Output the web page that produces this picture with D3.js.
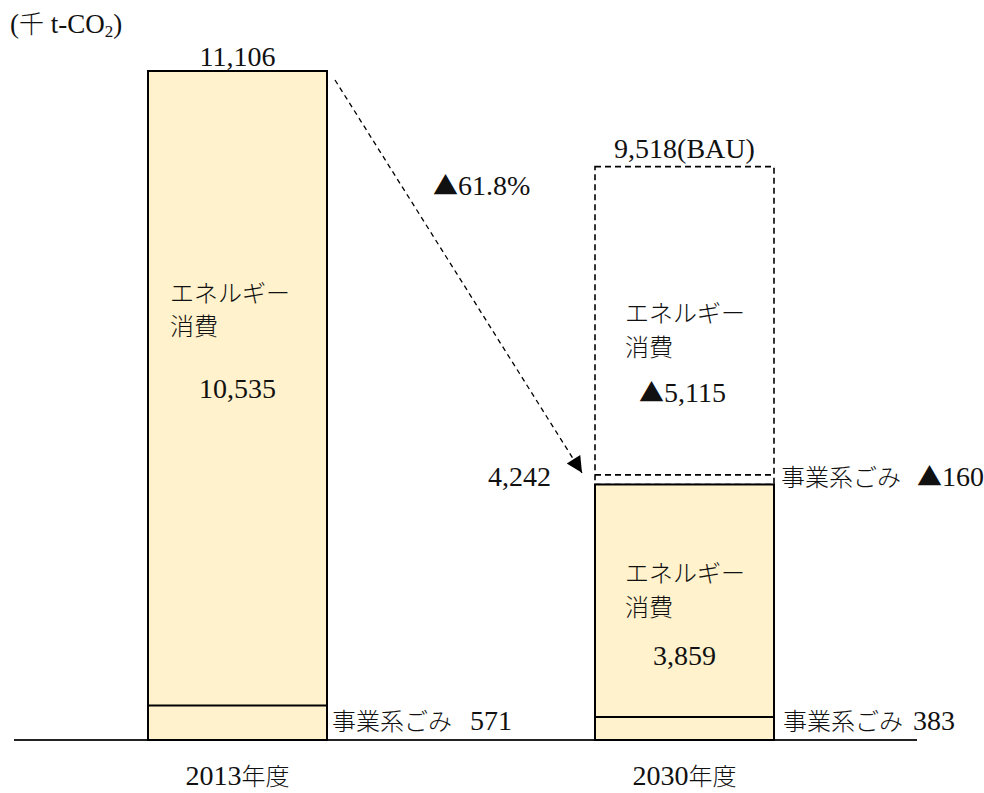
<!DOCTYPE html>
<html>
<head>
<meta charset="utf-8">
<script src="https://cdn.jsdelivr.net/npm/d3@7"></script>
<style>
  html, body { margin: 0; padding: 0; background: #ffffff; }
  svg { display: block; }
  text { font-family: 'Liberation Serif', 'Noto Sans CJK JP', serif; fill: #111; }
  .cjk { font-family: 'Noto Sans CJK JP', sans-serif; font-weight: 300; }
</style>
</head>
<body>
<svg id="chart" width="984" height="793"></svg>
<script>
// ---- data ----
const categories = ["2013年度", "2030年度"];
const energy = [10535, 3859];          // エネルギー消費
const waste = [571, 383];              // 事業系ごみ
const totals = [11106, 4242];
const bauTotal = 9518;                 // 2030 BAU
const bauEnergyCut = 5115;             // ▲ エネルギー消費
const bauWasteCut = 160;               // ▲ 事業系ごみ
const reductionPct = "61.8%";
const unitLabel = ["(", "千", " t-CO", "2", ")"];

// ---- layout ----
const svg = d3.select("#chart");
const baseY = 740, topY = 71;
const barW = 179;

const y = d3.scaleLinear().domain([0, totals[0]]).range([baseY, topY]);
const x = d3.scalePoint().domain(categories).range([237.5, 684.5]);

const fmt = d3.format(",");
const CJK = 24, NUM = 28, TRI = 25;

// baseline
svg.append("line")
  .attr("x1", 14).attr("x2", 917)
  .attr("y1", baseY).attr("y2", baseY)
  .attr("stroke", "#222").attr("stroke-width", 2);

// BAU dashed box (2030)
const c2 = categories[1];
svg.append("rect")
  .attr("x", x(c2) - barW / 2)
  .attr("y", y(bauTotal))
  .attr("width", barW)
  .attr("height", y(totals[1]) - y(bauTotal))
  .attr("fill", "none")
  .attr("stroke", "#000").attr("stroke-width", 1.6)
  .attr("stroke-dasharray", "6,4");
svg.append("line")
  .attr("x1", x(c2) - barW / 2).attr("x2", x(c2) + barW / 2)
  .attr("y1", y(totals[1] + bauWasteCut)).attr("y2", y(totals[1] + bauWasteCut))
  .attr("stroke", "#000").attr("stroke-width", 1.6)
  .attr("stroke-dasharray", "6,4");

// stacked bars
const stackData = categories.map((c, i) => ({ cat: c, waste: waste[i], energy: energy[i], total: totals[i] }));
const bars = svg.selectAll("g.bar").data(stackData).join("g").attr("class", "bar");
bars.append("rect")
  .attr("x", d => x(d.cat) - barW / 2)
  .attr("y", d => y(d.waste + d.energy))
  .attr("width", barW)
  .attr("height", d => y(0) - y(d.waste + d.energy))
  .attr("fill", "#fff2cc")
  .attr("stroke", "#000").attr("stroke-width", 2);
bars.append("line")
  .attr("x1", d => x(d.cat) - barW / 2)
  .attr("x2", d => x(d.cat) + barW / 2)
  .attr("y1", d => y(d.waste)).attr("y2", d => y(d.waste))
  .attr("stroke", "#000").attr("stroke-width", 2);

// arrow
svg.append("defs").append("marker")
  .attr("id", "ah").attr("viewBox", "0 0 10 10")
  .attr("refX", 10).attr("refY", 5)
  .attr("markerWidth", 18).attr("markerHeight", 16)
  .attr("markerUnits", "userSpaceOnUse")
  .attr("orient", "auto")
  .append("path").attr("d", "M0,0 L10,5 L0,10 z").attr("fill", "#000");
const ax1 = x(categories[0]) + barW / 2 + 8, ay1 = y(totals[0]) + 9;
const ax2 = x(c2) - barW / 2 - 13, ay2 = y(totals[1] + bauWasteCut) - 2;
svg.append("line")
  .attr("x1", ax1).attr("y1", ay1)
  .attr("x2", ax2).attr("y2", ay2)
  .attr("stroke", "#000").attr("stroke-width", 1.3)
  .attr("stroke-dasharray", "5,4")
  .attr("marker-end", "url(#ah)");

// ---- text ----
function txt(xp, yp, anchor) {
  return svg.append("text").attr("x", xp).attr("y", yp).attr("text-anchor", anchor || "start");
}
function cjk(sel, s, size) {
  return sel.append("tspan").attr("class", "cjk").attr("font-size", size || CJK).text(s);
}
function num(sel, s, size) {
  return sel.append("tspan").attr("font-size", size || NUM).text(s);
}
function tri(sel) {
  return sel.append("tspan").attr("class", "cjk").attr("font-weight", 400).attr("font-size", TRI).text("▲");
}

// unit
const u = txt(10, 33);
num(u, unitLabel[0], 27);
cjk(u, unitLabel[1], 25);
num(u, unitLabel[2], 27);
num(u, unitLabel[3], 17).attr("dy", 4);
num(u, unitLabel[4], 27).attr("dy", -4);

// totals
num(txt(x(categories[0]), y(totals[0]) - 5, "middle"), fmt(totals[0]));
num(txt(x(c2), y(bauTotal) - 9, "middle"), fmt(bauTotal) + "(BAU)");
num(txt(x(c2) - barW / 2 - 44, y(totals[1]) + 2, "end"), fmt(totals[1]));

// reduction
const r = txt(433, 195);
tri(r); num(r, reductionPct);

// left bar energy
const l0 = x(categories[0]) - barW / 2 + 22;
cjk(txt(l0, 302), "エネルギー");
cjk(txt(l0, 335), "消費");
num(txt(x(categories[0]), 398, "middle"), fmt(energy[0]));

// right BAU cut
const l1 = x(c2) - barW / 2 + 30;
cjk(txt(l1, 322), "エネルギー");
cjk(txt(l1, 356), "消費");
const bc = txt(x(c2) - 2, 402, "middle");
tri(bc); num(bc, fmt(bauEnergyCut));

// right bar energy
cjk(txt(l1, 582), "エネルギー");
cjk(txt(l1, 616), "消費");
num(txt(x(c2), 665, "middle"), fmt(energy[1]));

// waste labels
function wasteLabel(xp, yp, val, gap, withTri) {
  const t = txt(xp, yp);
  cjk(t, "事業系ごみ");
  if (withTri) {
    tri(t).attr("dx", gap);
  } else {
    num(t, val).attr("dx", gap);
    return;
  }
  num(t, val);
}
wasteLabel(x(categories[0]) + barW / 2 + 5, 730, fmt(waste[0]), 18, false);
wasteLabel(x(c2) + barW / 2 + 9, 730, fmt(waste[1]), 10, false);
wasteLabel(x(c2) + barW / 2 + 7, 486, fmt(bauWasteCut), 16, true);

// category labels
categories.forEach(c => {
  const t = txt(x(c), 785, "middle");
  const m = c.match(/^(\d+)(.*)$/);
  num(t, m[1]);
  cjk(t, m[2]);
});
</script>
</body>
</html>
